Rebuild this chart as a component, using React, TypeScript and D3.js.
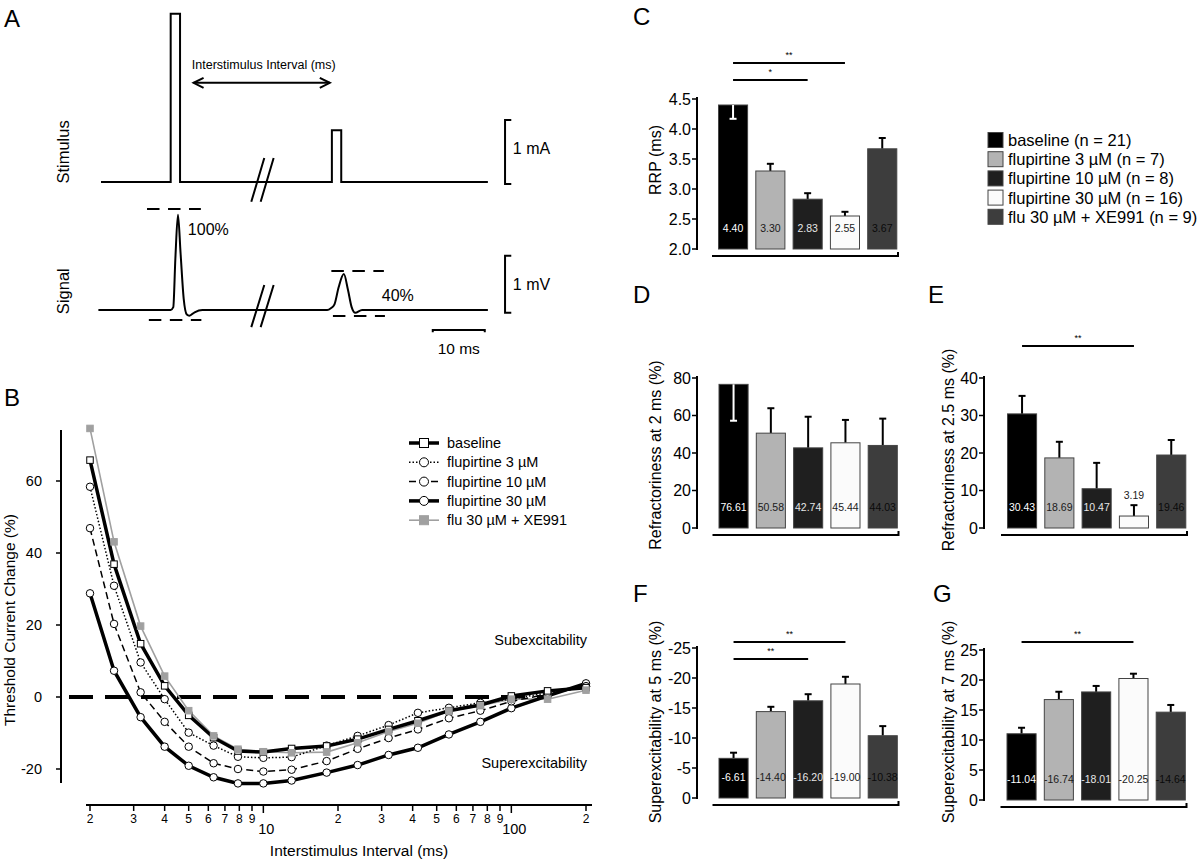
import React from 'react';
import * as d3 from 'd3';

const FONT = '"Liberation Sans", Arial, Helvetica, sans-serif';
const W = 1200;
const H = 859;

// ---- panel A: schematic traces (time in ms, stimulus in mA, signal in mV)
const STIM_T = [0, 13.4, 13.4, 15.2, 15.2, 44.4, 44.4, 46.2, 46.2, 74.4];
const STIM_MA = [0, 0, 2.63, 2.63, 0, 0, 0.81, 0.81, 0, 0];
const SIG_T = [-0.5, 13.4, 13.9, 14.3, 14.8, 15.3, 15.9, 16.5, 17.0, 18.0, 19.5, 43.5, 44.2, 44.9, 45.7, 46.7, 47.5, 48.2, 48.9, 50.2, 74.4];
const SIG_MV = [0, 0, 0.05, 0.9, 1.67, 1.0, 0.2, -0.08, -0.1, -0.04, 0, 0, 0.03, 0.1, 0.4, 0.63, 0.35, 0.05, -0.05, 0, 0];
// dashed amplitude markers: [t0, t1, mV]
const PEAK_MARKS = [
  [8.85, 19.2, 1.77],
  [9.2, 19.3, -0.175],
  [44.3, 54.4, 0.684],
  [44.6, 54.6, -0.105],
];

// ---- panel B: recovery cycle
const ISI = [2, 2.5, 3.2, 4, 5, 6.3, 7.9, 10, 13, 18, 24, 32, 42, 56, 75, 100, 140, 200];
const TC_BASELINE = [65.8, 36.9, 14.8, 3.1, -5.1, -11.3, -15.0, -15.3, -14.3, -13.6, -11.7, -9.0, -6.6, -3.8, -2.2, 0.3, 1.7, 2.6];
const TC_FLU3 = [58.4, 30.9, 9.6, -0.6, -9.9, -13.5, -16.6, -16.9, -16.7, -13.5, -10.8, -7.8, -4.4, -3.0, -1.6, -0.6, 1.2, 3.0];
const TC_FLU10 = [46.9, 20.3, 1.3, -6.9, -13.8, -18.4, -20.0, -20.7, -20.2, -17.8, -14.4, -11.4, -9.0, -5.9, -3.8, -1.2, 0.8, 2.9];
const TC_FLU30 = [28.8, 7.3, -5.6, -13.8, -19.1, -22.3, -24.0, -24.0, -23.2, -21.0, -18.9, -16.1, -14.1, -10.4, -6.9, -3.1, 0.3, 3.8];
const TC_XE = [74.6, 43.1, 19.7, 5.8, -3.8, -10.8, -14.5, -15.2, -15.5, -15.3, -12.7, -9.6, -7.3, -3.9, -2.4, -0.6, -0.6, 1.9];
const B_NAMES = ['baseline', 'flupirtine 3 µM', 'flupirtine 10 µM', 'flupirtine 30 µM', 'flu 30 µM + XE991'];
const B_TICKS_X = [2, 3, 4, 5, 6, 7, 8, 9, 10, 20, 30, 40, 50, 60, 70, 80, 90, 100, 200];
const B_TICKS_Y = [-20, 0, 20, 40, 60];

// ---- panels C-G: group summaries
const GROUPS = ['baseline', 'flupirtine 3 µM', 'flupirtine 10 µM', 'flupirtine 30 µM', 'flu 30 µM + XE991'];
const GROUP_N = [21, 7, 8, 16, 9];
const RRP_MEAN = [4.40, 3.30, 2.83, 2.55, 3.67];
const RRP_SEM = [0.23, 0.12, 0.10, 0.07, 0.18];
const REF2_MEAN = [76.61, 50.58, 42.74, 45.44, 44.03];
const REF2_SEM = [19.4, 13.3, 16.6, 12.2, 14.3];
const REF25_MEAN = [30.43, 18.69, 10.47, 3.19, 19.46];
const REF25_SEM = [4.8, 4.3, 6.9, 2.9, 4.0];
const SE5_MEAN = [-6.61, -14.40, -16.20, -19.00, -10.38];
const SE5_SEM = [0.94, 0.8, 1.1, 1.2, 1.6];
const SE7_MEAN = [-11.04, -16.74, -18.01, -20.25, -14.64];
const SE7_SEM = [1.0, 1.3, 1.0, 0.8, 1.2];

const BAR_FILLS = ['#000000', '#b3b3b3', '#1f1f1f', '#fbfbfb', '#3d3d3d'];
const VALUE_FILLS = ['#ffffff', '#1a1a1a', '#e6e6e6', '#1a1a1a', '#0a0a0a'];

const fmt2 = (v: number) => d3.format('.2f')(v).replace('\u2212', '-');

function PanelA() {
  const t = d3.scaleLinear().domain([0, 10]).range([101, 153]);
  const sy = d3.scaleLinear().domain([0, 1]).range([182, 118]);
  const gy = d3.scaleLinear().domain([0, 1]).range([310, 253]);
  const stim = d3.line<number>().x((_, i) => t(STIM_T[i])).y(d => sy(d))(STIM_MA) || '';
  const sig = d3.line<number>().x((_, i) => t(SIG_T[i])).y(d => gy(d)).curve(d3.curveMonotoneX)(SIG_MV) || '';
  const ax0 = t(17.8), ax1 = t(44.0), ay = sy(1.55);
  const brk = (t0: number, ya: number, yb: number) => `M${t(t0)},${ya}L${t(t0) + 13},${yb}`;
  return (
    <g>
      <text x={4} y={27} fontSize={24}>A</text>
      <path d={stim} fill="none" stroke="#000" strokeWidth={2} />
      <path d={sig} fill="none" stroke="#000" strokeWidth={2} />
      <path d={brk(28.9, sy(-0.31), sy(0.375)) + brk(30.7, sy(-0.31), sy(0.375))} stroke="#000" strokeWidth={2} />
      <path d={brk(28.9, gy(-0.3), gy(0.44)) + brk(30.7, gy(-0.3), gy(0.44))} stroke="#000" strokeWidth={2} />
      {PEAK_MARKS.map((m, i) => (
        <line key={i} x1={t(m[0])} x2={t(m[1])} y1={gy(m[2])} y2={gy(m[2])} stroke="#000" strokeWidth={2} strokeDasharray="12.5,8.5" />
      ))}
      <line x1={ax0} x2={ax1} y1={ay} y2={ay} stroke="#000" strokeWidth={2} />
      <path d={`M${ax0 + 10},${ay - 5}L${ax0},${ay}L${ax0 + 10},${ay + 5}M${ax1 - 10},${ay - 5}L${ax1},${ay}L${ax1 - 10},${ay + 5}`} fill="none" stroke="#000" strokeWidth={2} />
      <text x={t(31.3)} y={sy(1.83)} fontSize={12.5} textAnchor="middle" dominantBaseline="central">Interstimulus Interval (ms)</text>
      <text x={t(16.7)} y={gy(1.42)} fontSize={16} dominantBaseline="central">100%</text>
      <text x={t(54.0)} y={gy(0.26)} fontSize={16} dominantBaseline="central">40%</text>
      <text transform={`translate(69,${sy(0.47)}) rotate(-90)`} fontSize={16.5} textAnchor="middle">Stimulus</text>
      <text transform={`translate(69,${gy(0.33)}) rotate(-90)`} fontSize={16.5} textAnchor="middle">Signal</text>
      {/* scale bars */}
      <path d={`M${t(78.9)},${sy(0.97)}H${t(77.7)}V${sy(-0.03)}H${t(78.9)}`} fill="none" stroke="#000" strokeWidth={2} />
      <text x={t(79.2)} y={sy(0.52)} fontSize={16} dominantBaseline="central">1 mA</text>
      <path d={`M${t(78.9)},${gy(0.95)}H${t(77.7)}V${gy(-0.05)}H${t(78.9)}`} fill="none" stroke="#000" strokeWidth={2} />
      <text x={t(79.2)} y={gy(0.44)} fontSize={16} dominantBaseline="central">1 mV</text>
      <path d={`M${t(63.8)},${gy(-0.39)}V${gy(-0.35)}H${t(73.8)}V${gy(-0.39)}`} fill="none" stroke="#000" strokeWidth={2} />
      <text x={t(68.8)} y={gy(-0.67)} fontSize={15.5} textAnchor="middle" dominantBaseline="central">10 ms</text>
    </g>
  );
}

const B_STYLES = [
  { stroke: '#000', width: 3.5, dash: '', shape: 'square', fill: '#fff', mstroke: '#000' },
  { stroke: '#000', width: 1.5, dash: '1.5,2', shape: 'circle', fill: '#fff', mstroke: '#000' },
  { stroke: '#000', width: 1.5, dash: '7,4', shape: 'circle', fill: '#fff', mstroke: '#000' },
  { stroke: '#000', width: 3.5, dash: '', shape: 'circle', fill: '#fff', mstroke: '#000' },
  { stroke: '#a0a0a0', width: 1.6, dash: '', shape: 'square', fill: '#a0a0a0', mstroke: '#a0a0a0' },
];

function Marker({ cx, cy, shape, fill, stroke, size }: { cx: number; cy: number; shape: string; fill: string; stroke: string; size: number }) {
  if (shape === 'square') {
    return <rect x={cx - size / 2} y={cy - size / 2} width={size} height={size} fill={fill} stroke={stroke} strokeWidth={1} />;
  }
  return <circle cx={cx} cy={cy} r={size / 2} fill={fill} stroke={stroke} strokeWidth={1} />;
}

function PanelB() {
  const x = d3.scaleLog().domain([2, 200]).range([90, 586]);
  const y = d3.scaleLinear().domain([-20, 60]).range([769, 481]);
  const data = [TC_BASELINE, TC_FLU3, TC_FLU10, TC_FLU30, TC_XE];
  const line = d3.line<number>().x((_, i) => x(ISI[i])).y(d => y(d));
  const lineOrder = [4, 3, 2, 1, 0];
  const markOrder = [3, 2, 1, 0, 4];
  const major = (v: number) => v === 10 || v === 100;
  const tickText = (v: number) => (major(v) ? String(v) : String(v).charAt(0));
  return (
    <g>
      <text x={4} y={406} fontSize={24}>B</text>
      {/* y axis */}
      <line x1={61} x2={61} y1={430} y2={783} stroke="#000" strokeWidth={2} />
      {B_TICKS_Y.map(v => (
        <g key={v}>
          <line x1={56} x2={61} y1={y(v)} y2={y(v)} stroke="#000" strokeWidth={1.5} />
          <text x={42} y={y(v)} fontSize={14.5} textAnchor="end" dominantBaseline="central">{v}</text>
        </g>
      ))}
      <text transform={`translate(15,620) rotate(-90)`} fontSize={15.5} textAnchor="middle">Threshold Current Change (%)</text>
      {/* x axis */}
      <line x1={86} x2={592} y1={805} y2={805} stroke="#000" strokeWidth={2} />
      {B_TICKS_X.map(v => (
        <g key={v}>
          <line x1={x(v)} x2={x(v)} y1={805} y2={major(v) ? 813 : 811} stroke="#000" strokeWidth={1.5} />
          <text x={x(v) + (major(v) ? 3 : 0)} y={major(v) ? 829 : 819} fontSize={major(v) ? 14.5 : 12} textAnchor="middle" dominantBaseline="central">{tickText(v)}</text>
        </g>
      ))}
      <text x={359} y={850} fontSize={15.5} textAnchor="middle" dominantBaseline="central">Interstimulus Interval (ms)</text>
      {/* zero line */}
      <line x1={69} x2={548} y1={y(0)} y2={y(0)} stroke="#000" strokeWidth={4} strokeDasharray="24,12" />
      <text x={587} y={640} fontSize={14.5} textAnchor="end" dominantBaseline="central">Subexcitability</text>
      <text x={587} y={763} fontSize={14.5} textAnchor="end" dominantBaseline="central">Superexcitability</text>
      {lineOrder.map(k => (
        <path key={k} d={line(data[k]) || ''} fill="none" stroke={B_STYLES[k].stroke} strokeWidth={B_STYLES[k].width} strokeDasharray={B_STYLES[k].dash || undefined} />
      ))}
      {markOrder.map(k => (
        <g key={k}>
          {data[k].map((v, i) => (
            <Marker key={i} cx={x(ISI[i])} cy={y(v)} shape={B_STYLES[k].shape} fill={B_STYLES[k].fill} stroke={B_STYLES[k].mstroke} size={B_STYLES[k].shape === 'square' ? 6.5 : 7.5} />
          ))}
        </g>
      ))}
      {/* legend */}
      {B_NAMES.map((name, k) => {
        const ly = 443 + k * 19.3;
        const s = B_STYLES[k];
        return (
          <g key={name}>
            <line x1={409} x2={439} y1={ly} y2={ly} stroke={s.stroke} strokeWidth={s.width} strokeDasharray={s.dash || undefined} />
            <Marker cx={424} cy={ly} shape={s.shape} fill={s.fill} stroke={s.mstroke} size={9} />
            <text x={447} y={ly} fontSize={14.5} dominantBaseline="central">{name}</text>
          </g>
        );
      })}
    </g>
  );
}

type Sig = { to: number; y: number };
type BarCfg = {
  letter: string; letterX: number; letterY: number;
  axisX: number; x0: number;
  domain: [number, number]; range: [number, number];
  ticks: number[]; fmt: (v: number) => string;
  yLabel: string; yLabelX: number; yLabelY: number;
  means: number[]; sems: number[];
  flipFirst: boolean; sig: Sig[];
};

function BarPanel({ cfg }: { cfg: BarCfg }) {
  const y = d3.scaleLinear().domain(cfg.domain).range(cfg.range);
  const band = d3.scaleBand<string>().domain(GROUPS).range([cfg.x0 - 4.1, cfg.x0 - 4.1 + 186.5]).paddingInner(0.22).paddingOuter(0.11);
  const bw = band.bandwidth();
  const y0 = y(cfg.domain[0]);
  const away = Math.sign(cfg.domain[1] - cfg.domain[0]);
  const bx = (i: number) => (band(GROUPS[i]) || 0);
  return (
    <g>
      <text x={cfg.letterX} y={cfg.letterY} fontSize={24}>{cfg.letter}</text>
      <line x1={cfg.axisX} x2={cfg.axisX} y1={cfg.range[1] - 2} y2={cfg.range[0] + 1} stroke="#000" strokeWidth={2} />
      {cfg.ticks.map(v => (
        <g key={v}>
          <line x1={cfg.axisX - 5} x2={cfg.axisX} y1={y(v)} y2={y(v)} stroke="#000" strokeWidth={1.5} />
          <text x={cfg.axisX - 6} y={y(v)} fontSize={16} textAnchor="end" dominantBaseline="central">{cfg.fmt(v)}</text>
        </g>
      ))}
      <text transform={`translate(${cfg.yLabelX},${cfg.yLabelY}) rotate(-90)`} fontSize={16} textAnchor="middle">{cfg.yLabel}</text>
      {cfg.means.map((m, i) => {
        const top = y(m);
        const cx = bx(i) + bw / 2;
        const down = cfg.flipFirst && i === 0;
        const errY = down ? y(m - away * cfg.sems[i]) : y(m + away * cfg.sems[i]);
        const errColor = down ? '#fff' : '#000';
        const tall = y0 - top > 26;
        return (
          <g key={i}>
            {!down && (
              <g>
                <line x1={cx} x2={cx} y1={top} y2={errY} stroke={errColor} strokeWidth={2} />
                <line x1={cx - 3.5} x2={cx + 3.5} y1={errY} y2={errY} stroke={errColor} strokeWidth={2} />
              </g>
            )}
            <rect x={bx(i)} y={top} width={bw} height={y0 - top} fill={BAR_FILLS[i]} stroke="#444" strokeWidth={1} />
            {down && (
              <g>
                <line x1={cx} x2={cx} y1={top} y2={errY} stroke={errColor} strokeWidth={2} />
                <line x1={cx - 3.5} x2={cx + 3.5} y1={errY} y2={errY} stroke={errColor} strokeWidth={2} />
              </g>
            )}
            <text x={cx} y={tall ? y0 - 21 : errY - 10} fontSize={10.5} textAnchor="middle" dominantBaseline="central" fill={tall ? VALUE_FILLS[i] : '#222'}>{fmt2(m)}</text>
          </g>
        );
      })}
      <path d={`M${cfg.x0 - 6.5},${y0 + 7}H${cfg.x0 + 179.5}V${y0 + 3}`} fill="none" stroke="#000" strokeWidth={2} />
      {cfg.sig.map((s, k) => {
        const x1 = bx(0) + bw / 2;
        const x2 = bx(s.to) + bw / 2;
        return (
          <g key={k}>
            <line x1={x1} x2={x2} y1={s.y} y2={s.y} stroke="#000" strokeWidth={2} />
            <text x={(x1 + x2) / 2} y={s.y - 5} fontSize={9} textAnchor="middle">{s.to === 2 && cfg.letter === 'C' ? '*' : '**'}</text>
          </g>
        );
      })}
    </g>
  );
}

function LegendC() {
  return (
    <g>
      {GROUPS.map((g, i) => {
        const ly = 140 + i * 19.2;
        return (
          <g key={g}>
            <rect x={988} y={ly - 7.5} width={15} height={15} fill={BAR_FILLS[i]} stroke="#444" strokeWidth={1} />
            <text x={1008} y={ly} fontSize={16.5} dominantBaseline="central">{`${g} (n = ${GROUP_N[i]})`}</text>
          </g>
        );
      })}
    </g>
  );
}

const PANELS: BarCfg[] = [
  {
    letter: 'C', letterX: 633, letterY: 25, axisX: 697, x0: 718.5,
    domain: [2, 4.5], range: [249, 99], ticks: [2, 2.5, 3, 3.5, 4, 4.5], fmt: d3.format('.1f'),
    yLabel: 'RRP (ms)', yLabelX: 661, yLabelY: 160,
    means: RRP_MEAN, sems: RRP_SEM, flipFirst: true, sig: [{ to: 3, y: 63 }, { to: 2, y: 80 }],
  },
  {
    letter: 'D', letterX: 633, letterY: 303, axisX: 697, x0: 719,
    domain: [0, 80], range: [528, 378], ticks: [0, 20, 40, 60, 80], fmt: String,
    yLabel: 'Refractoriness at 2 ms (%)', yLabelX: 661, yLabelY: 455,
    means: REF2_MEAN, sems: REF2_SEM, flipFirst: true, sig: [],
  },
  {
    letter: 'E', letterX: 928, letterY: 303, axisX: 984, x0: 1007.5,
    domain: [0, 40], range: [528, 378], ticks: [0, 10, 20, 30, 40], fmt: String,
    yLabel: 'Refractoriness at 2.5 ms (%)', yLabelX: 954, yLabelY: 450,
    means: REF25_MEAN, sems: REF25_SEM, flipFirst: false, sig: [{ to: 3, y: 346 }],
  },
  {
    letter: 'F', letterX: 633, letterY: 602, axisX: 697, x0: 719,
    domain: [0, -25], range: [798, 648], ticks: [0, -5, -10, -15, -20, -25], fmt: String,
    yLabel: 'Superexcitability at 5 ms (%)', yLabelX: 661, yLabelY: 722,
    means: SE5_MEAN, sems: SE5_SEM, flipFirst: false, sig: [{ to: 3, y: 642 }, { to: 2, y: 659 }],
  },
  {
    letter: 'G', letterX: 933, letterY: 602, axisX: 984, x0: 1007,
    domain: [0, -25], range: [800, 650], ticks: [0, -5, -10, -15, -20, -25], fmt: (v: number) => String(Math.abs(v)),
    yLabel: 'Superexcitability at 7 ms (%)', yLabelX: 954, yLabelY: 722,
    means: SE7_MEAN, sems: SE7_SEM, flipFirst: false, sig: [{ to: 3, y: 642 }],
  },
];

export default function App() {
  return (
    <div style={{ position: 'absolute', left: 0, top: 0, width: W, height: H, background: '#fff' }}>
      <svg width={W} height={H} style={{ display: 'block', fontFamily: FONT }}>
        <PanelA />
        <PanelB />
        {PANELS.map(p => <BarPanel key={p.letter} cfg={p} />)}
        <LegendC />
      </svg>
    </div>
  );
}
